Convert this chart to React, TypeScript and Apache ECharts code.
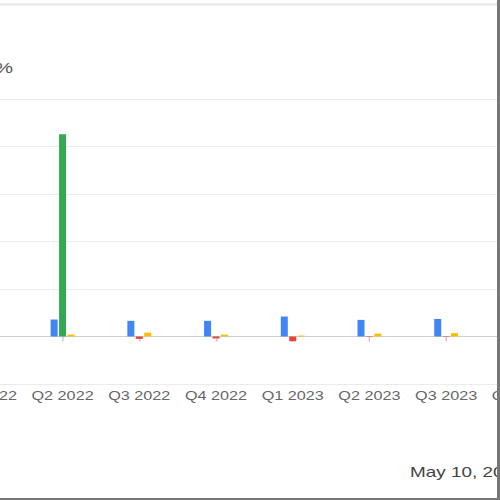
import React, { useEffect, useRef } from "react";
import * as echarts from "echarts";

// ---- data ----
const categories = [
  "Q1 2022",
  "Q2 2022",
  "Q3 2022",
  "Q4 2022",
  "Q1 2023",
  "Q2 2023",
  "Q3 2023",
  "Q4 2023",
];
const seriesNames = ["Metric A", "Change", "Metric C"];
const blueValues = [35, 36, 33, 33, 42, 35, 37, 36];
const changeValues = [-3, 426, -5, -4, -10, -1, -1, -2];
const yellowValues = [5, 4, 8, 4, 2, 6, 7, 5];
const yMin = -100;
const yMax = 500;
const yInterval = 100;
const axisTitle = "Growth %";
const dateText = "May 10, 2024";

const FONT = '"Liberation Sans", Arial, sans-serif';
const SX = 1.35; // horizontal stretch of the reference picture

export default function App() {
  const ref = useRef<HTMLDivElement>(null);

  useEffect(() => {
    if (!ref.current) return;
    const chart = echarts.init(ref.current, undefined, { renderer: "svg" });
    chart.setOption({
      animation: false,
      backgroundColor: "#ffffff",
      textStyle: { fontFamily: FONT },
      grid: {
        left: 50,
        right: 95.4,
        top: 99,
        bottom: 116,
        containLabel: false,
        outerBoundsMode: "none",
      },
      xAxis: {
        type: "category",
        data: categories,
        boundaryGap: true,
        axisLine: { show: true, onZero: true, lineStyle: { color: "#cfcfcf", width: 1 } },
        axisTick: { show: true, alignWithLabel: true, length: 5, lineStyle: { color: "#c4c4c4" } },
        axisLabel: {
          interval: 0,
          margin: 6,
          color: "#666666",
          fontSize: 12,
          fontFamily: FONT,
        },
        splitLine: { show: false },
      },
      yAxis: {
        type: "value",
        min: yMin,
        max: yMax,
        interval: yInterval,
        axisLine: { show: false },
        axisTick: { show: false },
        axisLabel: { show: false },
        splitLine: { show: true, lineStyle: { color: "#ebebeb", width: 1 } },
      },
      series: [
        {
          name: seriesNames[0],
          type: "bar",
          data: blueValues,
          barWidth: 5.2,
          barGap: "20%",
          itemStyle: { color: "#4285f4" },
        },
        {
          name: seriesNames[1],
          type: "bar",
          data: changeValues,
          barWidth: 5.2,
          barGap: "20%",
          itemStyle: {
            color: (p: any) => (p.value >= 0 ? "#34a853" : "#ea4335"),
          },
        },
        {
          name: seriesNames[2],
          type: "bar",
          data: yellowValues,
          barWidth: 5.2,
          barGap: "20%",
          itemStyle: { color: "#fbbc04" },
        },
      ],
      graphic: [
        {
          type: "line",
          shape: { x1: 0, y1: 4.5, x2: 600, y2: 4.5 },
          style: { stroke: "#e6e6e6", lineWidth: 2 },
          silent: true,
        },
        {
          type: "text",
          x: 98.5,
          y: 68,
          style: {
            text: axisTitle,
            font: `15px ${FONT}`,
            fill: "#555555",
            align: "right",
            verticalAlign: "middle",
          },
          silent: true,
        },
        {
          type: "text",
          x: 392.6,
          y: 472,
          style: {
            text: dateText,
            font: `14px ${FONT}`,
            fill: "#444444",
            align: "left",
            verticalAlign: "middle",
          },
          silent: true,
        },
      ],
    });
    return () => chart.dispose();
  }, []);

  return (
    <div
      style={{
        position: "fixed",
        left: 0,
        top: 0,
        width: 500,
        height: 500,
        boxSizing: "border-box",
        borderRight: "3px solid #777777",
        borderBottom: "2px solid #777777",
        overflow: "hidden",
        background: "#ffffff",
      }}
    >
      <div
        ref={ref}
        style={{
          position: "absolute",
          left: -120,
          top: 0,
          width: 600,
          height: 500,
          transform: `scaleX(${SX})`,
          transformOrigin: "0 0",
        }}
      />
    </div>
  );
}
